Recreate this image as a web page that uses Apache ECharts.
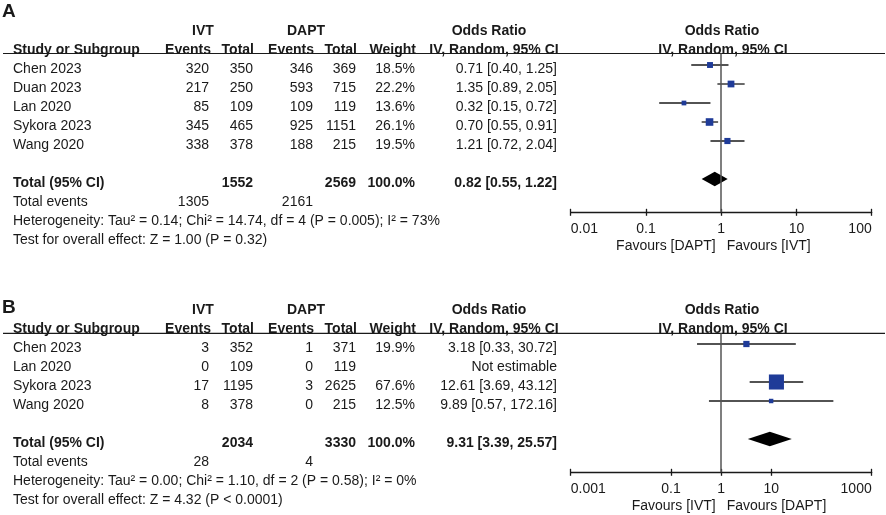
<!DOCTYPE html>
<html>
<head>
<meta charset="utf-8">
<script src="https://cdn.jsdelivr.net/npm/echarts@6/dist/echarts.min.js"></script>
<style>
  html, body { margin: 0; padding: 0; background: #fff; }
  #main { width: 886px; height: 515px; }
</style>
</head>
<body>
<div id="main"></div>
<script>
// ---- panel A ----
const studiesA = ['Chen 2023', 'Duan 2023', 'Lan 2020', 'Sykora 2023', 'Wang 2020'];
const ivtEventsA = [320, 217, 85, 345, 338];
const ivtTotalA = [350, 250, 109, 465, 378];
const daptEventsA = [346, 593, 109, 925, 188];
const daptTotalA = [369, 715, 119, 1151, 215];
const weightA = [18.5, 22.2, 13.6, 26.1, 19.5];
const orA = [0.71, 1.35, 0.32, 0.70, 1.21];
const loA = [0.40, 0.89, 0.15, 0.55, 0.72];
const hiA = [1.25, 2.05, 0.72, 0.91, 2.04];
const pooledA = [0.82, 0.55, 1.22];
const totalsA = [1552, 2569];
const totalEventsA = [1305, 2161];
const hetA = 'Heterogeneity: Tau² = 0.14; Chi² = 14.74, df = 4 (P = 0.005); I² = 73%';
const testA = 'Test for overall effect: Z = 1.00 (P = 0.32)';
const ticksA = [0.01, 0.1, 1, 10, 100];
const tickLabelsA = ['0.01', '0.1', '1', '10', '100'];
const favoursA = ['Favours [DAPT]', 'Favours [IVT]'];

// ---- panel B ----
const studiesB = ['Chen 2023', 'Lan 2020', 'Sykora 2023', 'Wang 2020'];
const ivtEventsB = [3, 0, 17, 8];
const ivtTotalB = [352, 109, 1195, 378];
const daptEventsB = [1, 0, 3, 0];
const daptTotalB = [371, 119, 2625, 215];
const weightB = [19.9, null, 67.6, 12.5];
const orB = [3.18, null, 12.61, 9.89];
const loB = [0.33, null, 3.69, 0.57];
const hiB = [30.72, null, 43.12, 172.16];
const pooledB = [9.31, 3.39, 25.57];
const totalsB = [2034, 3330];
const totalEventsB = [28, 4];
const hetB = 'Heterogeneity: Tau² = 0.00; Chi² = 1.10, df = 2 (P = 0.58); I² = 0%';
const testB = 'Test for overall effect: Z = 4.32 (P < 0.0001)';
const ticksB = [0.001, 0.1, 1, 10, 1000];
const tickLabelsB = ['0.001', '0.1', '1', '10', '1000'];
const favoursB = ['Favours [IVT]', 'Favours [DAPT]'];

const FONT = '"Liberation Sans", Arial, Helvetica, sans-serif';
const INK = '#1a1a1a';
const BLUE = '#1f3b98';
const LIFT = 4; // squares sit a little above the text baseline
const COL = { ev1: 209, tot1: 253, ev2: 313, tot2: 356, wt: 415, ci: 557 };

const chart = echarts.init(document.getElementById('main'));

function fmt2(v) { return v.toFixed(2); }

function buildPanel(p, k) {
  const n = p.studies.length;
  const rows = [];
  rows.push({ r: p.letterRow, cells: [{ t: p.letter, x: 2, a: 'left', b: 1, fs: 19 }] });
  rows.push({ r: -2, cells: [
    { t: 'IVT', x: 203, a: 'center', b: 1 },
    { t: 'DAPT', x: 306, a: 'center', b: 1 },
    { t: 'Odds Ratio', x: 489, a: 'center', b: 1 },
    { t: 'Odds Ratio', x: 722, a: 'center', b: 1 }
  ] });
  rows.push({ r: -1, cells: [
    { t: 'Study or Subgroup', x: 13, a: 'left', b: 1 },
    { t: 'Events', x: COL.ev1 + 2, b: 1 },
    { t: 'Total', x: COL.tot1 + 1, b: 1 },
    { t: 'Events', x: COL.ev2 + 1, b: 1 },
    { t: 'Total', x: COL.tot2 + 1, b: 1 },
    { t: 'Weight', x: COL.wt + 1, b: 1 },
    { t: 'IV, Random, 95% CI', x: 494, a: 'center', b: 1 },
    { t: 'IV, Random, 95% CI', x: 723, a: 'center', b: 1 }
  ] });
  p.studies.forEach((s, i) => {
    const est = p.or[i] == null ? 'Not estimable'
      : fmt2(p.or[i]) + ' [' + fmt2(p.lo[i]) + ', ' + fmt2(p.hi[i]) + ']';
    rows.push({ r: i, cells: [
      { t: s, x: 13, a: 'left' },
      { t: String(p.ivtEv[i]), x: COL.ev1 },
      { t: String(p.ivtTot[i]), x: COL.tot1 },
      { t: String(p.daptEv[i]), x: COL.ev2 },
      { t: String(p.daptTot[i]), x: COL.tot2 },
      { t: p.weight[i] == null ? '' : p.weight[i].toFixed(1) + '%', x: COL.wt },
      { t: est, x: COL.ci }
    ] });
  });
  rows.push({ r: n + 1, cells: [
    { t: 'Total (95% CI)', x: 13, a: 'left', b: 1 },
    { t: String(p.totals[0]), x: COL.tot1, b: 1 },
    { t: String(p.totals[1]), x: COL.tot2, b: 1 },
    { t: '100.0%', x: COL.wt, b: 1 },
    { t: fmt2(p.pooled[0]) + ' [' + fmt2(p.pooled[1]) + ', ' + fmt2(p.pooled[2]) + ']', x: COL.ci, b: 1 }
  ] });
  rows.push({ r: n + 2, cells: [
    { t: 'Total events', x: 13, a: 'left' },
    { t: String(p.totalEvents[0]), x: COL.ev1 },
    { t: String(p.totalEvents[1]), x: COL.ev2 }
  ] });
  rows.push({ r: n + 3, cells: [{ t: p.het, x: 13, a: 'left' }] });
  rows.push({ r: n + 4, cells: [{ t: p.test, x: 13, a: 'left' }] });

  const forestData = [];
  p.studies.forEach((s, i) => {
    if (p.or[i] != null) forestData.push([p.or[i], i, p.lo[i], p.hi[i], p.weight[i]]);
  });

  const tickFmt = v => {
    const j = p.ticks.findIndex(t => Math.abs(Math.log10(t) - Math.log10(v)) < 1e-6);
    return j < 0 ? '' : p.tickLabels[j];
  };
  const axisBase = {
    type: 'log', logBase: 10, gridIndex: k, position: 'bottom',
    min: p.ticks[0], max: p.ticks[p.ticks.length - 1],
    splitLine: { show: false }
  };

  const textEl = (c, y) => ({
    type: 'text',
    style: {
      text: c.t, x: c.x, y: y,
      align: c.a || 'right', textAlign: c.a || 'right',
      verticalAlign: 'middle', textVerticalAlign: 'middle',
      fontSize: c.fs || 14, fontWeight: c.b ? 'bold' : 'normal',
      fontFamily: FONT, fill: INK
    }
  });

  return {
    grid: { left: 570.7, right: 14.3, top: p.top, height: p.height },
    xAxis: [
      Object.assign({}, axisBase, {
        axisLine: { show: true, onZero: false, lineStyle: { color: INK, width: 1.3 } },
        axisTick: { show: true, inside: false, length: 3.5, customValues: p.ticks, lineStyle: { color: INK, width: 1.3 } },
        axisLabel: {
          customValues: p.ticks, margin: 10, fontSize: 14, fontFamily: FONT, color: INK,
          alignMinLabel: 'left', alignMaxLabel: 'right', formatter: tickFmt
        }
      }),
      Object.assign({}, axisBase, {
        axisLine: { show: false, onZero: false },
        axisTick: { show: true, inside: true, length: 3.5, customValues: p.ticks, lineStyle: { color: INK, width: 1.3 } },
        axisLabel: { show: false }
      })
    ],
    yAxis: { type: 'value', gridIndex: k, min: p.yMin, max: p.yMax, inverse: true, show: false },
    series: [
      {
        type: 'custom', name: 'table' + k, xAxisIndex: 2 * k, yAxisIndex: k, clip: false, silent: true,
        data: rows.map(r => [1, r.r]),
        renderItem(params, api) {
          const row = rows[params.dataIndex];
          const y = api.coord([1, row.r])[1];
          return { type: 'group', children: row.cells.map(c => textEl(c, y)) };
        }
      },
      {
        type: 'custom', name: 'frame' + k, xAxisIndex: 2 * k, yAxisIndex: k, clip: false, silent: true,
        data: [[1, p.yMin]],
        renderItem(params, api) {
          const top = api.coord([1, p.yMin]);
          const bot = api.coord([1, p.yMax]);
          const fy = bot[1] + 34.3;
          return { type: 'group', children: [
            { type: 'line', shape: { x1: 3, y1: top[1], x2: 885, y2: top[1] }, style: { stroke: INK, lineWidth: 1.2 } },
            textEl({ t: p.favours[0], x: bot[0] - 5.5 }, fy),
            textEl({ t: p.favours[1], x: bot[0] + 5.5, a: 'left' }, fy)
          ] };
        }
      },
      {
        type: 'custom', name: 'studies' + k, xAxisIndex: 2 * k, yAxisIndex: k, clip: false,
        data: forestData,
        encode: { x: 0, y: 1 },
        renderItem(params, api) {
          const r = api.value(1);
          const c = api.coord([api.value(0), r]);
          const l = api.coord([api.value(2), r]);
          const h = api.coord([api.value(3), r]);
          const s = 0.725 * Math.pow(api.value(4), 0.72);
          const y = c[1] - LIFT;
          return { type: 'group', children: [
            { type: 'line', shape: { x1: l[0], y1: y, x2: h[0], y2: y }, style: { stroke: INK, lineWidth: 1.3 } },
            { type: 'rect', shape: { x: c[0] - s / 2, y: y - s / 2, width: s, height: s }, style: { fill: BLUE } }
          ] };
        },
        z: 3
      },
      {
        type: 'custom', name: 'pooled' + k, xAxisIndex: 2 * k, yAxisIndex: k, clip: false,
        data: [[p.pooled[0], n + 1, p.pooled[1], p.pooled[2]]],
        encode: { x: 0, y: 1 },
        renderItem(params, api) {
          const r = api.value(1);
          const c = api.coord([api.value(0), r]);
          const l = api.coord([api.value(2), r]);
          const h = api.coord([api.value(3), r]);
          const y = c[1] - LIFT;
          return {
            type: 'polygon',
            shape: { points: [[l[0], y], [c[0], y - 7.3], [h[0], y], [c[0], y + 7.3]] },
            style: { fill: '#000' }
          };
        },
        markLine: {
          silent: true, symbol: 'none', label: { show: false },
          lineStyle: { color: '#555', width: 1.5, type: 'solid' },
          data: [{ xAxis: 1 }]
        },
        z: 2
      }
    ]
  };
}

const panels = [
  buildPanel({
    letter: 'A', letterRow: -3, studies: studiesA, ivtEv: ivtEventsA, ivtTot: ivtTotalA,
    daptEv: daptEventsA, daptTot: daptTotalA, weight: weightA, or: orA, lo: loA, hi: hiA,
    pooled: pooledA, totals: totalsA, totalEvents: totalEventsA, het: hetA, test: testA,
    ticks: ticksA, tickLabels: tickLabelsA, favours: favoursA,
    top: 53.5, height: 158.8, yMin: -0.816, yMax: 7.542
  }, 0),
  buildPanel({
    letter: 'B', letterRow: -2.1, studies: studiesB, ivtEv: ivtEventsB, ivtTot: ivtTotalB,
    daptEv: daptEventsB, daptTot: daptTotalB, weight: weightB, or: orB, lo: loB, hi: hiB,
    pooled: pooledB, totals: totalsB, totalEvents: totalEventsB, het: hetB, test: testB,
    ticks: ticksB, tickLabels: tickLabelsB, favours: favoursB,
    top: 333.3, height: 139, yMin: -0.774, yMax: 6.542
  }, 1)
];

chart.setOption({
  animation: false,
  backgroundColor: '#fff',
  grid: panels.map(p => p.grid),
  xAxis: [].concat(...panels.map(p => p.xAxis)),
  yAxis: panels.map(p => p.yAxis),
  series: [].concat(...panels.map(p => p.series))
});

window.addEventListener('resize', () => chart.resize());
</script>
</body>
</html>
